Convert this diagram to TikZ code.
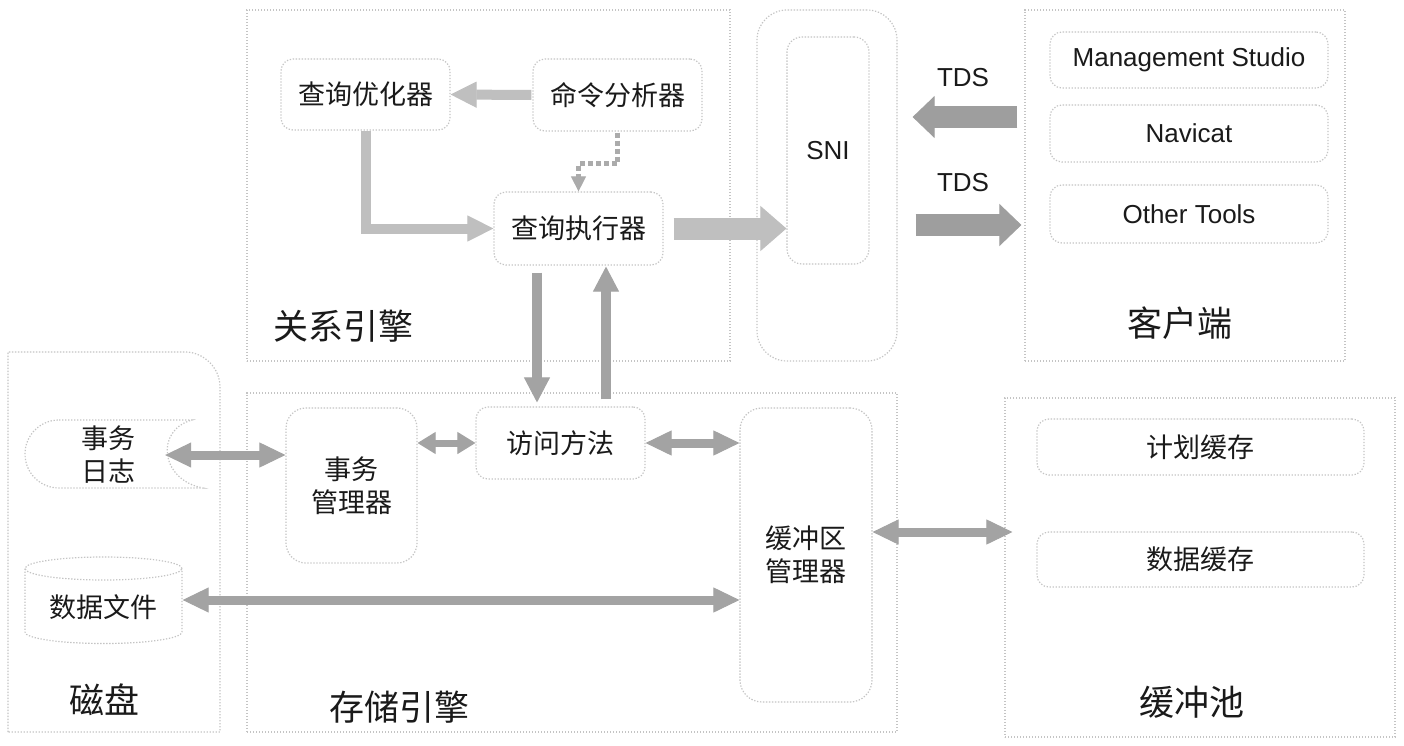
\documentclass[tikz,border=0pt]{standalone}
\usepackage{fontspec}
\setmainfont{Liberation Sans}
\newfontfamily\cjk{Noto Sans CJK SC}
\usetikzlibrary{arrows.meta,calc}
\definecolor{bordergray}{HTML}{C4C4C4}
\definecolor{lightarrow}{HTML}{BFBFBF}
\definecolor{darkarrow}{HTML}{A3A3A3}
\definecolor{tdsarrow}{HTML}{9E9E9E}
\definecolor{dotgray}{HTML}{ABABAB}
\definecolor{textblack}{HTML}{1A1A1A}
\newcommand\myboxfont{\cjk\fontsize{27}{33}\selectfont}
\newcommand\mylabfont{\cjk\fontsize{35}{40}\selectfont}
\newcommand\mylatfont{\fontsize{26}{30}\selectfont}
\begin{document}
\begin{tikzpicture}[x=1pt,y=-1pt,
  border/.style={draw=bordergray, line width=1.2pt, dash pattern=on 1.3pt off 1.7pt},
  container/.style={border, inner sep=0pt},
  box/.style={border, rounded corners=12pt, inner sep=0pt, font=\myboxfont, text=textblack, align=center},
  latbox/.style={box, font=\mylatfont},
  lab/.style={font=\mylabfont, inner sep=0pt, text=textblack},
  latlab/.style={font=\mylatfont, inner sep=0pt, text=textblack},
  plain/.style={font=\myboxfont, inner sep=0pt, text=textblack, align=center},
  optarr/.style={draw=lightarrow, line width=10pt, -{Triangle[length=26pt,width=26pt,line width=1pt]}},
  exearr/.style={draw=lightarrow, line width=22pt, -{Triangle[length=26pt,width=45pt,line width=1pt]}},
  tdsarr/.style={draw=tdsarrow, line width=22pt, -{Triangle[length=22pt,width=42pt,line width=1pt]}},
  varr/.style={draw=darkarrow, line width=10pt, -{Triangle[length=25pt,width=26pt,line width=1pt]}},
  dbl/.style={draw=darkarrow, line width=9pt, {Triangle[length=26pt,width=25pt,line width=1pt]}-{Triangle[length=26pt,width=25pt,line width=1pt]}},
  smalldbl/.style={draw=darkarrow, line width=7pt, {Triangle[length=18pt,width=22pt,line width=1pt]}-{Triangle[length=18pt,width=22pt,line width=1pt]}},
  dotarr/.style={draw=dotgray, line width=4.5pt, dash pattern=on 5pt off 3pt, -{Triangle[length=15pt,width=15pt,line width=1pt]}}
]
\fill[white] (0,0) rectangle (1404,746);
\useasboundingbox (0,0) rectangle (1404,746);

% containers
\node[container, minimum width=483pt, minimum height=351pt] (rel) at (488.5,185.5) {};
\node[container, rounded corners=30pt, minimum width=140pt, minimum height=351pt] (sniout) at (827,185.5) {};
\node[container, minimum width=320pt, minimum height=351pt] (client) at (1185,185.5) {};
\node[container, minimum width=650pt, minimum height=339pt] (store) at (572,562.5) {};
\node[container, minimum width=390pt, minimum height=339pt] (pool) at (1200,567.5) {};
\draw[border] (8,732) -- (8,352) -- (185,352) .. controls (204,352) and (220,368) .. (220,387) -- (220,732) -- cycle;

% labels
\node[lab] (rellab) at (343,326) {关系引擎};
\node[lab] (clientlab) at (1180,323) {客户端};
\node[lab] (disklab) at (104,700) {磁盘};
\node[lab] (storelab) at (399,707) {存储引擎};
\node[lab] (poollab) at (1192,702) {缓冲池};

% relational engine boxes
\node[box, minimum width=169pt, minimum height=71pt] (opt) at (365.5,94.5) {查询优化器};
\node[box, minimum width=169pt, minimum height=72pt] (parse) at (617.5,95) {命令分析器};
\node[box, minimum width=169pt, minimum height=73pt] (exe) at (578.5,228.5) {查询执行器};

% SNI
\node[latbox, rounded corners=15pt, minimum width=82pt, minimum height=227pt] (sni) at (828,150.5) {SNI};

% client boxes
\node[latbox, minimum width=278pt, minimum height=56pt] (ms) at (1189,60) {Management Studio};
\node[latbox, minimum width=278pt, minimum height=57pt] (nav) at (1189,133.5) {Navicat};
\node[latbox, minimum width=278pt, minimum height=58pt] (oth) at (1189,214) {Other Tools};
\node[latlab] (tds1lab) at (963,78) {TDS};
\node[latlab] (tds2lab) at (963,183) {TDS};

% disk
\draw[border] (59,420) -- (192,420) .. controls (155,430) and (160,480) .. (203,488) -- (59,488)
  .. controls (40.2,488) and (25,472.8) .. (25,454) .. controls (25,435.2) and (40.2,420) .. (59,420) -- cycle;
\node[plain, minimum width=114pt] (log) at (108,455) {事务\\日志};
\draw[border] (103.5,568.5) ellipse [x radius=78.5pt, y radius=11.5pt];
\draw[border] (25,568.5) -- (25,632) .. controls (25,638.4) and (60.1,643.5) .. (103.5,643.5)
  .. controls (146.9,643.5) and (182,638.4) .. (182,632) -- (182,568.5);
\node[plain, minimum width=158pt] (df) at (103.5,607) {数据文件};
\coordinate (dfport) at ($(df.east)+(0,-7)$);

% storage engine
\node[box, rounded corners=20pt, minimum width=131pt, minimum height=155pt] (txm) at (351.5,485.5) {事务\\管理器};
\node[box, minimum width=169pt, minimum height=72pt] (acc) at (560.5,443) {访问方法};
\node[box, rounded corners=22pt, minimum width=132pt, minimum height=294pt] (buf) at (806,555) {缓冲区\\管理器};

% buffer pool
\node[box, minimum width=327pt, minimum height=56pt] (plan) at (1200.5,447) {计划缓存};
\node[box, minimum width=327pt, minimum height=55pt] (datac) at (1200.5,559.5) {数据缓存};

% arrows
\draw[optarr, shorten <=1pt] (parse.west) -- (opt.east);
\draw[optarr] (opt.south) |- (exe.west);
\draw[dotarr, shorten <=1pt] (parse.south) -- ++(0,32) -| (exe.north);
\draw[exearr, shorten <=10pt] (exe.east) -- (exe.east -| sni.west);
\coordinate (t1) at (960,117);
\coordinate (t2) at (960,225);
\draw[tdsarr, shorten <=7pt, shorten >=15pt] (client.west |- t1) -- (sniout.east |- t1);
\draw[tdsarr, shorten <=18pt, shorten >=3pt] (sniout.east |- t2) -- (client.west |- t2);
\coordinate (dnx) at (537,0);
\coordinate (upx) at (606,0);
\draw[varr, shorten <=7pt, shorten >=4pt] (exe.south -| dnx) -- (acc.north -| dnx);
\draw[varr, shorten <=7pt, shorten >=1pt] (acc.north -| upx) -- (exe.south -| upx);
\draw[dbl] (log.east) -- (log.east -| txm.west);
\draw[smalldbl] (txm.east |- acc.west) -- (acc.west);
\draw[dbl] (acc.east) -- (acc.east -| buf.west);
\draw[dbl] (dfport) -- (dfport -| buf.west);
\coordinate (bp) at (0,532);
\draw[dbl, shorten >=-8pt] (buf.east |- bp) -- (pool.west |- bp);
\end{tikzpicture}
\end{document}
